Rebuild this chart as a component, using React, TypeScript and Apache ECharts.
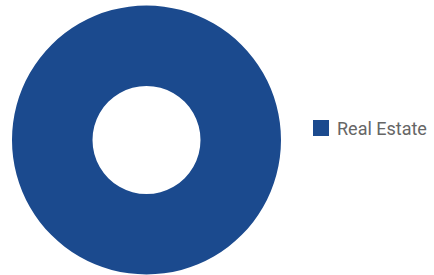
import React, { useEffect, useRef } from "react";
import * as echarts from "echarts";

const categories = ["Real Estate"];
const values = [100];
const colors = ["#1b4a8e"];

export default function App() {
  const ref = useRef<HTMLDivElement>(null);
  useEffect(() => {
    if (!ref.current) return;
    const chart = echarts.init(ref.current, null, { renderer: "svg" });
    chart.setOption({
      animation: false,
      color: colors,
      legend: {
        orient: "vertical",
        left: 313,
        top: 119,
        padding: 0,
        itemWidth: 16,
        itemHeight: 16,
        itemGap: 8,
        icon: "rect",
        textStyle: { fontFamily: "Roboto", fontSize: 18, color: "#666666", padding: [1, 0, 0, 3] },
        data: categories,
      },
      series: [
        {
          type: "pie",
          center: [146.5, 140],
          radius: [54, 134.5],
          label: { show: false },
          labelLine: { show: false },
          silent: true,
          data: categories.map((c, i) => ({ name: c, value: values[i] })),
        },
      ],
    });
    return () => chart.dispose();
  }, []);
  return (
    <div
      ref={ref}
      style={{ position: "fixed", left: 0, top: 0, width: 434, height: 275, background: "#ffffff" }}
    />
  );
}
